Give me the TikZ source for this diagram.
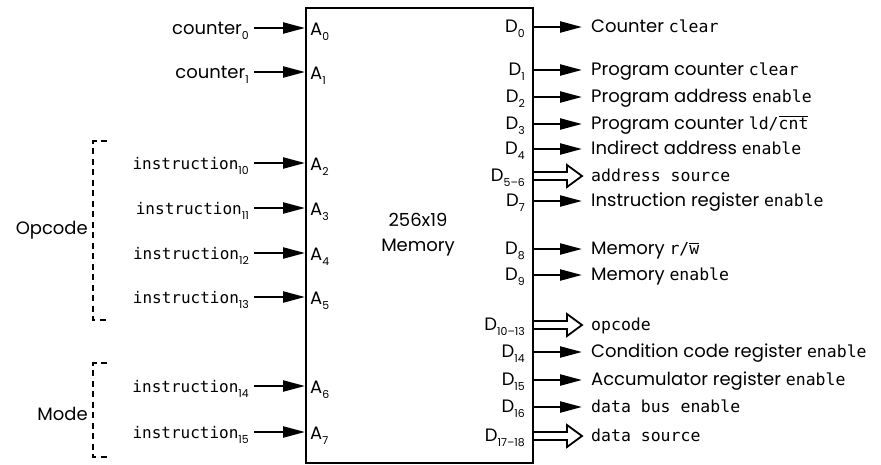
\documentclass[tikz,border=0pt]{standalone}
\usepackage{fontspec}
\setmainfont{Poppins}[Scale=1.09]
\setmonofont{DejaVu Sans Mono}
\usetikzlibrary{arrows.meta}
\newcommand\sbs[1]{\raisebox{-5.5pt}{\fontsize{10}{10}\selectfont #1}}
\newcommand\ovl[1]{$\overline{\hbox{#1}}$}
\newcommand\lmono[1]{{\fontsize{16}{18}\ttfamily #1}}
\tikzset{
  txt/.style={inner sep=0pt, font=\fontsize{16.5}{18}\selectfont},
  lab/.style={txt, inner xsep=5pt},
  rlab/.style={txt, inner xsep=9pt},
  sig/.style={line width=2.3pt, -{Triangle[length=22pt,width=11pt]}},
  busline/.style={line width=1.8pt, line join=miter},
  brk/.style={line width=2.2pt, dash pattern=on 6pt off 4.5pt},
  memstyle/.style={draw, line width=2pt, inner sep=0pt, minimum width=227pt, minimum height=455pt}
}
\begin{document}
\begin{tikzpicture}[x=1pt,y=-1pt]
\useasboundingbox (0,0) rectangle (881,464);
\node[memstyle, anchor=north west] (mem) at (305,7) {};
\node[txt, anchor=base] (title1) at (418,226) {256x19};
\node[txt, anchor=base] (title2) at (418,251) {Memory};
% inputs
\foreach \i/\y/\t in {0/28/counter\sbs{0}, 1/72/counter\sbs{1},
   2/163/\lmono{instruction}\sbs{10}, 3/208/\lmono{instruction}\sbs{11},
   4/253/\lmono{instruction}\sbs{12}, 5/297/\lmono{instruction}\sbs{13},
   6/386/\lmono{instruction}\sbs{14}, 7/432/\lmono{instruction}\sbs{15}}{
  \coordinate (pa\i) at (305,\y);
  \node[lab, anchor=base east] (in\i) at (254,\y+6) {\t};
  \node[txt, anchor=base west] (A\i) at (310,\y+7) {A\sbs{\i}};
  \draw[sig] (in\i.east |- pa\i) -- (pa\i);
}
% outputs (single)
\foreach \n/\y/\d/\t in {0/27/0/Counter \texttt{clear},
   1/70/1/Program counter \texttt{clear},
   2/97/2/Program address \texttt{enable},
   3/124/3/Program counter \texttt{ld/\ovl{cnt}},
   4/149/4/Indirect address \texttt{enable},
   7/201/7/Instruction register \texttt{enable},
   8/249/8/Memory \texttt{r/\ovl{w}},
   9/275/9/Memory \texttt{enable},
   14/352/14/Condition code register \texttt{enable},
   15/380/15/Accumulator register \texttt{enable},
   16/407/16/\texttt{data bus enable}}{
  \coordinate (pd\n) at (532,\y);
  \node[txt, anchor=base east] (D\n) at (525,\y+5) {D\sbs{\d}};
  \node[rlab, anchor=base west] (out\n) at (582,\y+5) {\t};
  \draw[sig] (pd\n) -- (pd\n -| out\n.west);
}
% outputs (bus)
\foreach \n/\y/\d/\t in {56/176/5–6/\texttt{address source},
   1013/325/10–13/\texttt{opcode},
   1718/436/17–18/\texttt{data source}}{
  \coordinate (pd\n) at (532,\y);
  \node[txt, anchor=base east] (D\n) at (525,\y+5) {D\sbs{\d}};
  \node[rlab, anchor=base west] (out\n) at (582,\y+5) {\t};
  \draw[busline] (pd\n) ++(0,-4) -- ++(35,0) -- ++(0,-7) -- ++(15,11)
     -- ++(-15,11) -- ++(0,-7) -- ++(-35,0);
}
% brackets
\coordinate (ob1) at (107,141); \coordinate (ob2) at (107,320);
\draw[brk] (ob1) -- (93,141) -- (93,320) -- (ob2);
\node[txt, anchor=east] (opc) at (88,230) {Opcode};
\coordinate (mb1) at (107,363); \coordinate (mb2) at (107,457);
\draw[brk] (mb1) -- (93,363) -- (93,457) -- (mb2);
\node[txt, anchor=east] (mode) at (88,414) {Mode};
\end{tikzpicture}
\end{document}
